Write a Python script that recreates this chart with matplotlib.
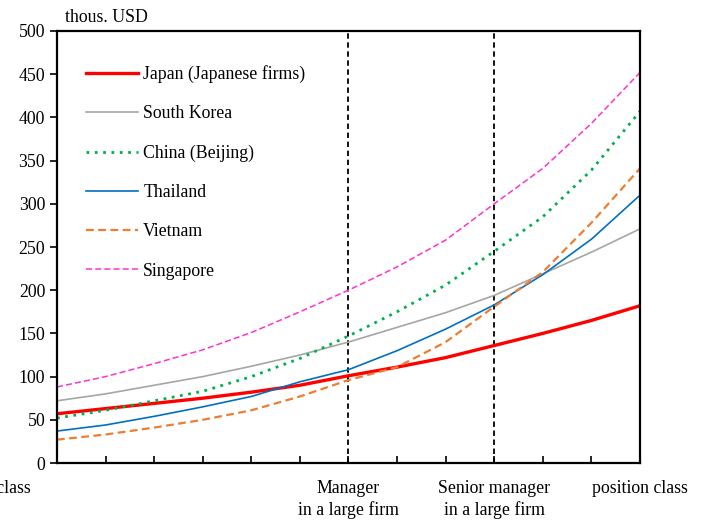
import matplotlib.pyplot as plt
import numpy as np

plt.rcParams['font.family'] = ['Liberation Serif', 'DejaVu Serif']

# position steps 0..12
steps = np.arange(13)

japan = [57, 63, 69, 75, 82, 90, 101, 111, 122, 136, 150, 165, 182]
korea = [72, 80, 90, 100, 112, 125, 140, 157, 174, 194, 219, 244, 271]
china = [52, 61, 72, 83, 100, 121, 147, 175, 206, 245, 285, 339, 407]
thailand = [37, 44, 54, 65, 77, 94, 108, 130, 155, 183, 218, 259, 310]
vietnam = [27, 33, 41, 50, 61, 77, 96, 111, 140, 181, 221, 278, 341]
singapore = [88, 100, 115, 131, 151, 175, 200, 227, 258, 300, 341, 393, 452]

fs = 12.8

fig = plt.figure(figsize=(7.06, 5.21), dpi=100)
ax = fig.add_axes([0.0807, 0.1113, 0.8258, 0.8292])

ax.plot(steps, japan, color='#ff0000', lw=2.4, label='Japan (Japanese firms)')
ax.plot(steps, korea, color='#a6a6a6', lw=1.2, label='South Korea')
ax.plot(steps, china, color='#00b050', lw=2.0, ls=(0, (1, 2)), label='China (Beijing)')
ax.plot(steps, thailand, color='#0070c0', lw=1.2, label='Thailand')
ax.plot(steps, vietnam, color='#ed7d31', lw=1.6, ls=(0, (3.5, 2)), label='Vietnam')
ax.plot(steps, singapore, color='#ff33cc', lw=1.1, ls=(0, (4, 2)), label='Singapore')

# manager / senior manager markers
for xv in (6, 9):
    ax.axvline(xv, color='black', lw=1.3, ls=(0, (3, 2)), zorder=1)

ax.set_xlim(0, 12)
ax.set_ylim(0, 500)
ax.set_yticks(np.arange(0, 501, 50))
ax.set_xticks(steps)
ax.set_xticklabels([])
ax.tick_params(axis='x', direction='in', length=5, width=1.2)
ax.tick_params(axis='y', direction='out', length=5, width=1.2, labelsize=fs)
for s in ax.spines.values():
    s.set_linewidth(1.6)

ax.text(0.014, 1.012, 'thous. USD', transform=ax.transAxes, fontsize=fs, va='bottom')

xt = ax.get_xaxis_transform()
ax.text(6, -0.04, 'Manager\nin a large firm', transform=xt,
        ha='center', va='top', fontsize=fs, linespacing=1.25)
ax.text(9, -0.04, 'Senior manager\nin a large firm', transform=xt,
        ha='center', va='top', fontsize=fs, linespacing=1.25)
ax.text(12, -0.04, 'position class', transform=xt,
        ha='center', va='top', fontsize=fs)
ax.text(-0.55, -0.04, 'Lowest position class', transform=xt,
        ha='right', va='top', fontsize=fs)

ax.legend(loc='upper left', bbox_to_anchor=(0.023, 0.958), frameon=False, fontsize=fs,
          handlelength=2.9, labelspacing=1.25, handletextpad=0.3)

fig.savefig('out.png', dpi=100)
